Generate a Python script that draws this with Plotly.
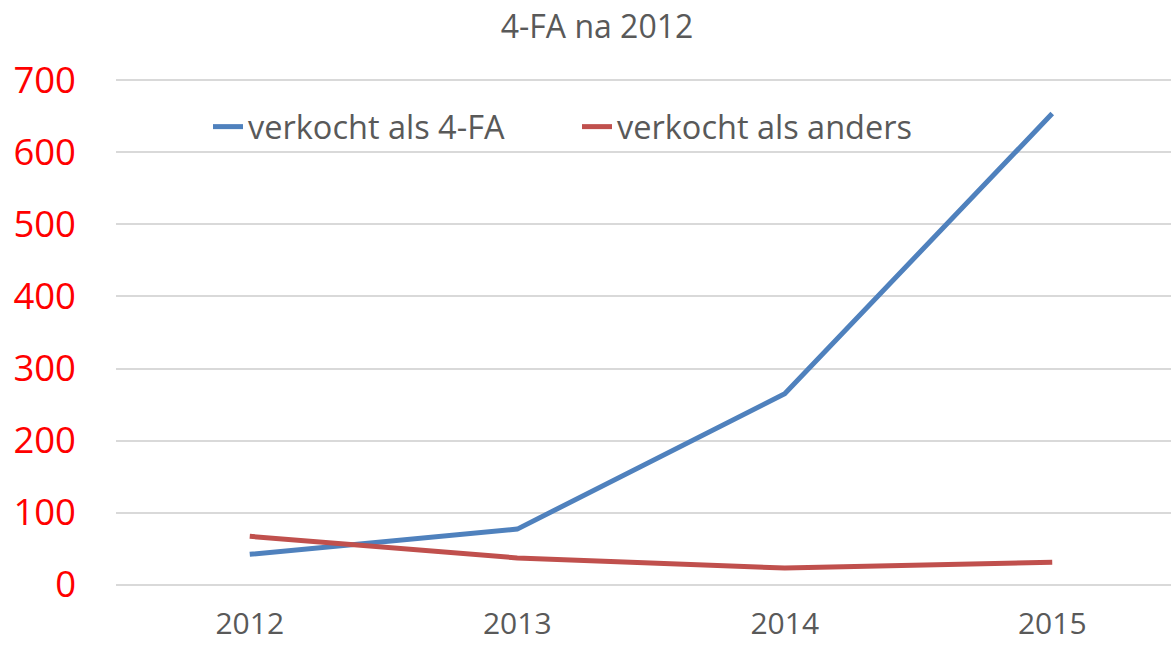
import plotly.graph_objects as go

years = ["2012", "2013", "2014", "2015"]
verkocht_4fa = [42, 77, 265, 654]
verkocht_anders = [67, 37, 23, 31]
y_ticks = [0, 100, 200, 300, 400, 500, 600, 700]

FONT = "Open Sans"
GRAY = "#595959"

fig = go.Figure()
fig.add_trace(go.Scatter(x=years, y=verkocht_4fa, mode="lines", name="verkocht als 4-FA",
                         line=dict(color="#4F81BD", width=5)))
fig.add_trace(go.Scatter(x=years, y=verkocht_anders, mode="lines", name="verkocht als anders",
                         line=dict(color="#C0504D", width=5)))

fig.update_layout(
    width=1171, height=646,
    margin=dict(l=116, r=0, t=79, b=60, autoexpand=False),
    paper_bgcolor="white", plot_bgcolor="white",
    font=dict(family=FONT, color=GRAY),
    title=dict(text="4-FA na 2012", x=597/1171, xanchor="center", xref="container",
               y=1 - 27/646, yanchor="middle", yref="container",
               font=dict(family=FONT, size=32, color=GRAY)),
    legend=dict(orientation="h", xref="container", yref="container",
                x=208/1171, xanchor="left", y=1 - 127/646, yanchor="middle",
                font=dict(family=FONT, size=32.5, color=GRAY),
                entrywidth=324, entrywidthmode="pixels",
                bgcolor="rgba(0,0,0,0)"),
    showlegend=True,
)
fig.update_xaxes(type="category", range=[-0.5, 3.444], showgrid=False, zeroline=False,
                 showline=False, ticks="", ticklabelstandoff=17,
                 tickfont=dict(family=FONT, size=30, color=GRAY))
fig.update_yaxes(range=[-2, 702], tickvals=y_ticks, showgrid=True, gridcolor="#D9D9D9",
                 gridwidth=1.5, zeroline=False, showline=False, ticks="",
                 ticklabelstandoff=39,
                 tickfont=dict(family=FONT, size=36.5, color="#FF0000"))

fig.write_html("out.html", config={"displayModeBar": False},
               post_script="document.body.style.margin='0px';")
